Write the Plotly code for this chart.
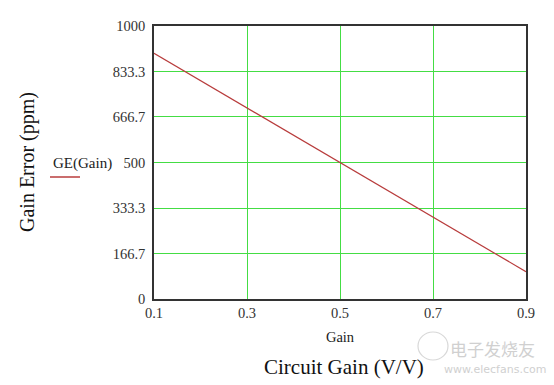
import plotly.graph_objects as go

# Data
gain = [0.1, 0.3, 0.5, 0.7, 0.9]
ge_ppm = [900, 700, 500, 300, 100]

x_ticks = [0.1, 0.3, 0.5, 0.7, 0.9]
x_ticklabels = ["0.1", "0.3", "0.5", "0.7", "0.9"]
y_ticks = [0, 166.7, 333.3, 500, 666.7, 833.3, 1000]
y_ticklabels = ["0", "166.7", "333.3", "500", "666.7", "833.3", "1000"]

serif = "Liberation Serif, Times New Roman, serif"
line_color = "#b83c3c"
grid_color = "#44dd44"

fig = go.Figure()
fig.add_trace(go.Scatter(x=gain, y=ge_ppm, mode="lines",
                         line=dict(color=line_color, width=1.2),
                         showlegend=False, hoverinfo="skip"))

L, R, T, B = 154, 28, 26, 86
W, H = 554, 385
pw = W - L - R
ph = H - T - B

def px(xpix):
    return (xpix - L) / pw

def py(ypix):
    return (H - B - ypix) / ph

fig.update_layout(
    width=W, height=H,
    margin=dict(l=L, r=R, t=T, b=B, pad=0),
    paper_bgcolor="white", plot_bgcolor="white",
    font=dict(family=serif, color="#333333", size=14),
    xaxis=dict(range=[0.1, 0.9], tickvals=x_ticks, ticktext=x_ticklabels,
               showgrid=True, gridcolor=grid_color, gridwidth=1,
               zeroline=False, showline=True, linecolor="#333333", linewidth=1.5,
               mirror=True, ticks="", tickfont=dict(size=14.5, family=serif, color="#333333"),
               title=dict(text="Gain", font=dict(size=14.5, family=serif, color="#222222"), standoff=12)),
    yaxis=dict(range=[0, 1000], tickvals=y_ticks, ticktext=y_ticklabels,
               showgrid=True, gridcolor=grid_color, gridwidth=1,
               zeroline=False, showline=True, linecolor="#333333", linewidth=1.5,
               mirror=True, ticks="", ticklabelstandoff=4,
               tickfont=dict(size=14.5, family=serif, color="#333333")),
    annotations=[
        dict(text="Gain Error (ppm)", x=px(27), y=py(162), xref="paper", yref="paper",
             textangle=-90, showarrow=False, xanchor="center", yanchor="middle",
             font=dict(size=20, family=serif, color="#111111")),
        dict(text="Circuit Gain (V/V)", x=px(344), y=py(367), xref="paper", yref="paper",
             showarrow=False, xanchor="center", yanchor="middle",
             font=dict(size=21, family=serif, color="#111111")),
        dict(text="GE(Gain)", x=px(51), y=py(163), xref="paper", yref="paper",
             showarrow=False, xanchor="left", yanchor="middle",
             font=dict(size=15, family=serif, color="#222222")),
        dict(text="电子发烧友", x=px(492), y=py(348), xref="paper", yref="paper",
             showarrow=False, xanchor="center", yanchor="middle",
             font=dict(size=17, family="Noto Sans CJK SC", color="#d0d0d0")),
        dict(text="www.elecfans.com", x=px(495), y=py(369), xref="paper", yref="paper",
             showarrow=False, xanchor="center", yanchor="middle",
             font=dict(size=11, family="DejaVu Sans", color="#d0d0d0")),
    ],
    shapes=[
        dict(type="line", xref="paper", yref="paper",
             x0=px(50), x1=px(80), y0=py(177), y1=py(177),
             line=dict(color=line_color, width=1.5)),
        dict(type="circle", xref="paper", yref="paper",
             x0=px(418), x1=px(448), y0=py(360), y1=py(332),
             line=dict(color="#d8d8d8", width=1.2)),
    ],
)

fig.write_html("out.html")
